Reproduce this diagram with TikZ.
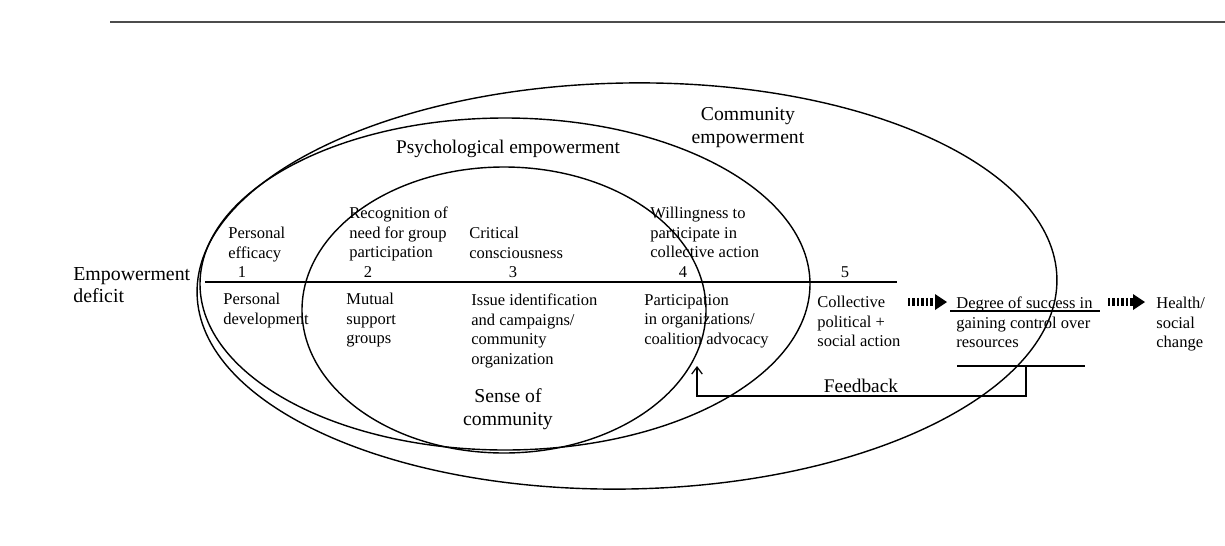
\documentclass[tikz,border=0pt]{standalone}
\usepackage{fontspec}
\setmainfont{Liberation Serif}
\usepackage{tikz}
\usetikzlibrary{arrows, arrows.meta}

\begin{document}
\begin{tikzpicture}[x=0.02cm, y=-0.02cm,
    ring/.style={line width=0.8pt},
    txt/.style={font=\fontsize{9.4}{11.1}\selectfont, align=left, inner sep=0pt, anchor=north west},
    num/.style={font=\fontsize{9.4}{11.1}\selectfont, inner sep=0pt, anchor=base},
    lbl/.style={font=\fontsize{11.2}{13.1}\selectfont, align=center, inner sep=0pt},
    shaft/.style={line width=4.5pt, dash pattern=on 1.2pt off 1.35pt}]
     \useasboundingbox (0,0) rectangle (1225,545);
     % rule over the figure
     \draw[gray!60!black, line width=1.1pt] (110,22) -- (1225,22);
     % the three rings
     \draw[ring] (627,286) ellipse [x radius=430, y radius=203, rotate=1];
     \draw[ring] (505,284) ellipse [x radius=305, y radius=166];
     \draw[ring] (504,310) ellipse [x radius=202, y radius=143];
     \draw[line width=1pt] (205,282) -- (897,282);
     % labels
     \node[lbl, anchor=north west, align=left, font=\fontsize{11.3}{12.5}\selectfont] (deficit) at (73,267) {Empowerment\\deficit};
     \node[lbl, anchor=base, font=\fontsize{11}{13}\selectfont] (psych) at (508,153) {Psychological empowerment};
     \node[lbl, anchor=north] (commemp) at (748,107) {Community\\empowerment};
     \node[lbl, anchor=north] (sense) at (508,388) {Sense of\\community};
     % upper row
     \node[txt] (effic) at (228,227) {Personal\\efficacy};
     \node[txt] (recog) at (349,207) {Recognition of\\need for group\\participation};
     \node[txt] (crit) at (469,227) {Critical\\consciousness};
     \node[txt] (will) at (650,207) {Willingness to\\participate in\\collective action};
     \node[num] (n1) at (242,277) {1};
     \node[num] (n2) at (368,277) {2};
     \node[num] (n3) at (513,277) {3};
     \node[num] (n4) at (683,277) {4};
     \node[num] (n5) at (845,277) {5};
     % lower row
     \node[txt] (devel) at (223,293) {Personal\\development};
     \node[txt] (mutual) at (346,293) {Mutual\\support\\groups};
     \node[txt] (issue) at (471,294) {Issue identification\\and campaigns/\\community\\organization};
     \node[txt] (partic) at (644,294) {Participation\\in organizations/\\coalition advocacy};
     \node[txt] (collect) at (817,296) {Collective\\political +\\social action};
     \node[txt] (degree) at (956,297) {Degree of success in\\gaining control over\\resources};
     \node[txt] (health) at (1156,297) {Health/\\social\\change};
     \draw[line width=0.7pt] (950,311) -- (1100,311);
     \draw[line width=0.7pt] (957,366) -- (1085,366);
     % hatched arrows
     \coordinate (s1) at (908,302);
     \coordinate (h1) at (935,302);
     \coordinate (s2) at (1108,302);
     \coordinate (h2) at (1133,302);
     \foreach \s/\h in {s1/h1, s2/h2} {
        \draw[shaft] (\s) -- (\h);
        \fill (\h) ++(0,-8) -- ++(12,8) -- ++(-12,8) -- cycle;
     }
     % feedback loop
     \coordinate (fbstart) at (1026,366);
     \coordinate (fbend) at (697,366);
     \draw[-{Straight Barb[length=4pt, width=6pt]}, line width=0.7pt] (fbstart) -- ++(0,30) -| (fbend);
     \node[lbl, anchor=base, font=\fontsize{11}{13}\selectfont] (feedback) at (861,392) {Feedback};
\end{tikzpicture}
\end{document}
